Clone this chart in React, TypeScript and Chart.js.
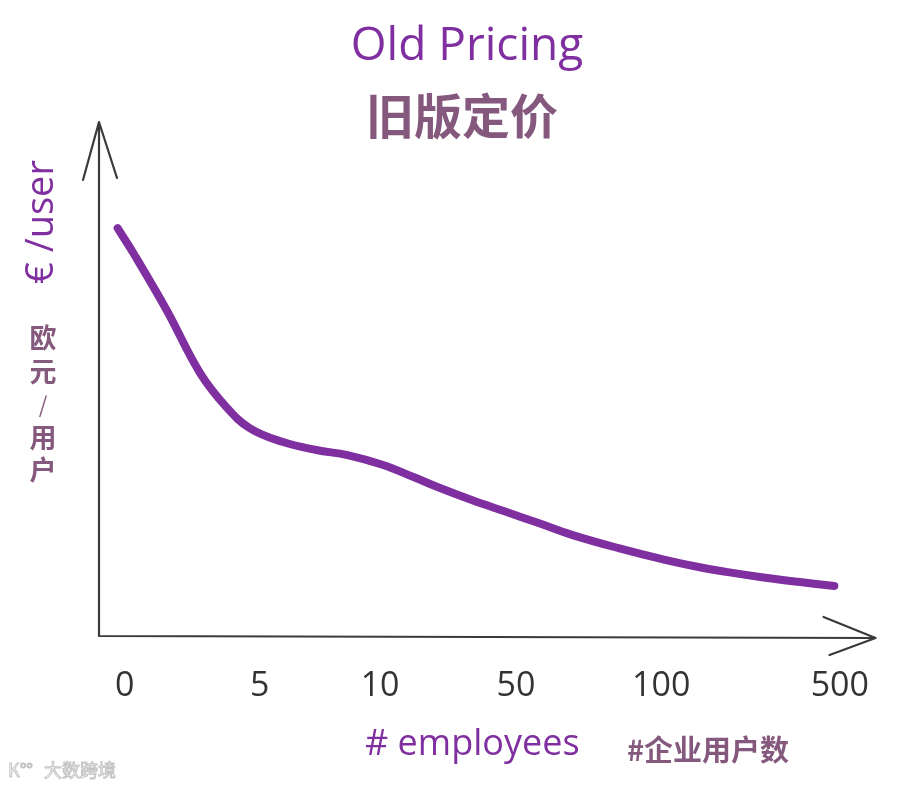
import React, { useEffect, useRef } from "react";
import { Chart, registerables } from "chart.js";

Chart.register(...registerables);

// x position of each sampled point along the employee axis (0..100 axis units)
const curveX = [2.4, 4.4, 8.7, 13.0, 16.4, 19.4, 23.6, 28.0, 32.0, 36.5, 40.5, 44.0, 48.0, 52.4, 56.6, 60.9, 66.9, 72.9, 77.2, 81.4, 85.8, 90.0, 94.7];
// price per user (relative, 0..100)
const curveY = [79.8, 75.0, 63.8, 51.5, 44.8, 40.7, 38.0, 36.4, 35.4, 33.5, 31.1, 28.9, 26.6, 24.3, 22.1, 19.8, 17.2, 14.9, 13.5, 12.4, 11.4, 10.6, 9.8];

const tickLabels = ["0", "5", "10", "50", "100", "500"];
const tickValues = [3.3, 20.7, 36.2, 53.7, 72.4, 95.4];

const titleText = "Old Pricing";
const subtitleText = "旧版定价";
const yTitle = "€ /user";
const yTitleCn = ["欧", "元", "/", "用", "户"];
const xTitle = "# employees";
const xTitleCn = "#企业用户数";
const watermark = "大数跨境";

const PURPLE = "#7f2f9f";
const MAUVE = "#85587d";
const AXIS = "#3a3a3a";

const decorPlugin = {
  id: "decor",
  afterDraw(chart: any) {
    const { ctx, chartArea } = chart;
    const { left, right, top, bottom } = chartArea;
    ctx.save();
    // axes
    ctx.strokeStyle = AXIS;
    ctx.lineWidth = 2.2;
    ctx.lineCap = "round";
    ctx.lineJoin = "round";
    ctx.beginPath();
    ctx.moveTo(left, bottom);
    ctx.lineTo(left, top - 3);
    ctx.moveTo(left - 16, top + 55);
    ctx.lineTo(left, top - 3);
    ctx.lineTo(left + 18, top + 53);
    ctx.moveTo(left, bottom);
    ctx.lineTo(right, bottom + 2);
    ctx.moveTo(right - 52, bottom - 19);
    ctx.lineTo(right, bottom + 2);
    ctx.lineTo(right - 46, bottom + 19);
    ctx.stroke();

    // titles
    ctx.textAlign = "center";
    ctx.textBaseline = "middle";
    ctx.fillStyle = PURPLE;
    ctx.font = "46px 'Open Sans'";
    ctx.fillText(titleText, 467, 47);
    ctx.fillStyle = MAUVE;
    ctx.font = "bold 48px 'Noto Sans CJK SC'";
    ctx.fillText(subtitleText, 462, 116);

    // y title rotated
    ctx.save();
    ctx.translate(42, 222);
    ctx.rotate(-Math.PI / 2);
    ctx.fillStyle = PURPLE;
    ctx.font = "38px 'Open Sans'";
    ctx.fillText(yTitle, 0, 0);
    ctx.restore();

    ctx.fillStyle = MAUVE;
    const ys = [338, 372, 405, 438, 470];
    yTitleCn.forEach((c, i) => {
      if (c === "/") {
        ctx.font = "22px 'Noto Sans CJK SC'";
      } else {
        ctx.font = "bold 27px 'Noto Sans CJK SC'";
      }
      ctx.fillText(c, 43, ys[i]);
    });

    // x titles
    ctx.textAlign = "left";
    ctx.fillStyle = PURPLE;
    ctx.font = "36px 'Open Sans'";
    ctx.fillText(xTitle, 365, 745);
    ctx.fillStyle = MAUVE;
    ctx.font = "bold 29px 'Noto Sans CJK SC'";
    ctx.fillText(xTitleCn, 627, 750);

    // watermark
    ctx.strokeStyle = "#c4c4c4";
    ctx.lineWidth = 1;
    ctx.font = "18px 'Noto Sans CJK SC'";
    ctx.strokeText("K°°", 8, 770);
    ctx.strokeText(watermark, 44, 770);
    ctx.restore();
  },
};

export default function App() {
  const ref = useRef<HTMLCanvasElement | null>(null);
  useEffect(() => {
    if (!ref.current) return;
    const chart = new Chart(ref.current, {
      type: "line",
      data: {
        datasets: [
          {
            data: curveX.map((x, i) => ({ x, y: curveY[i] })),
            borderColor: PURPLE,
            borderWidth: 8,
            borderCapStyle: "round",
            borderJoinStyle: "round",
            pointRadius: 0,
            tension: 0.4,
            fill: false,
          },
        ],
      },
      options: {
        animation: false,
        responsive: true,
        maintainAspectRatio: false,
        layout: { padding: { top: 125, right: 22, left: 0, bottom: 0 } },
        plugins: { legend: { display: false }, tooltip: { enabled: false }, title: { display: false } },
        scales: {
          x: {
            type: "linear",
            min: 0,
            max: 100,
            grid: { display: false, drawTicks: false },
            border: { display: false },
            afterBuildTicks: (s: any) => {
              s.ticks = tickValues.map((v) => ({ value: v }));
            },
            afterFit: (s: any) => {
              s.height = 150;
            },
            ticks: {
              autoSkip: false,
              maxRotation: 0,
              padding: 30,
              color: "#333333",
              font: { family: "'Open Sans'", size: 34 },
              callback: (v: any) => {
                const i = tickValues.indexOf(Number(v));
                return i >= 0 ? tickLabels[i] : "";
              },
            },
          },
          y: {
            type: "linear",
            min: 0,
            max: 100,
            grid: { display: false, drawTicks: false },
            border: { display: false },
            ticks: { display: false },
            afterFit: (s: any) => {
              s.width = 99;
            },
          },
        },
      },
      plugins: [decorPlugin],
    });
    return () => chart.destroy();
  }, []);
  return (
    <div style={{ position: "absolute", left: 0, top: 0, width: 900, height: 786, background: "#fff" }}>
      <canvas ref={ref} />
    </div>
  );
}
